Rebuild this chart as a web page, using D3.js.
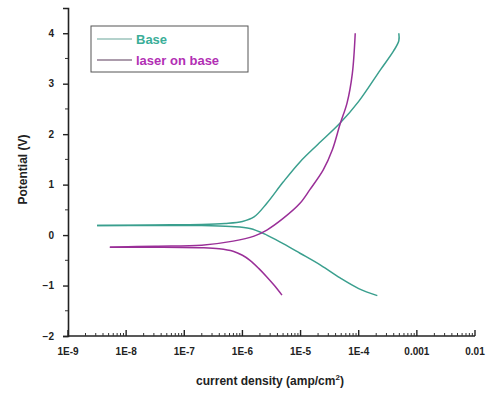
<!DOCTYPE html>
<html>
<head>
<meta charset="utf-8">
<script src="https://cdn.jsdelivr.net/npm/d3@7"></script>
<style>
  body { margin: 0; background: #fff; }
  text { font-family: "Liberation Sans", Arial, sans-serif; font-weight: bold; }
</style>
</head>
<body>
<div id="chart"></div>
<script>
// current density is stored as log10(amp/cm2), potential in V
const seriesNames = ["Base", "laser on base"];
const seriesColors = ["#3a9f8e", "#9a2f98"];

// Base: cathodic branch (from low-current tip outwards)
const baseCathLog = [-8.5, -7.5, -6.7, -6.2, -5.87, -5.58, -5.3, -5.01, -4.65, -4.32, -4.0, -3.68];
const baseCathV   = [0.19, 0.19, 0.19, 0.17, 0.13, 0.0, -0.17, -0.36, -0.6, -0.85, -1.06, -1.2];
// Base: anodic branch
const baseAnodLog = [-8.5, -7.5, -6.7, -6.3, -6.0, -5.8, -5.58, -5.3, -5.01, -4.7, -4.32, -4.0, -3.63, -3.4, -3.31, -3.31];
const baseAnodV   = [0.19, 0.2, 0.21, 0.23, 0.27, 0.36, 0.63, 1.05, 1.45, 1.8, 2.22, 2.65, 3.27, 3.65, 3.85, 4.0];

// laser on base: cathodic branch
const laserCathLog = [-8.28, -7.5, -6.7, -6.4, -6.16, -6.0, -5.87, -5.72, -5.58, -5.45, -5.32];
const laserCathV   = [-0.24, -0.24, -0.25, -0.27, -0.32, -0.4, -0.5, -0.66, -0.83, -1.0, -1.19];
// laser on base: anodic branch
const laserAnodLog = [-8.28, -7.5, -6.7, -6.16, -5.8, -5.58, -5.3, -5.01, -4.84, -4.61, -4.45, -4.32, -4.2, -4.11, -4.06];
const laserAnodV   = [-0.24, -0.22, -0.2, -0.12, -0.02, 0.1, 0.33, 0.63, 0.9, 1.29, 1.7, 2.2, 2.62, 3.2, 4.0];

const xTickLabels = ["1E-9", "1E-8", "1E-7", "1E-6", "1E-5", "1E-4", "0.001", "0.01"];
const yTicks = [-2, -1, 0, 1, 2, 3, 4];

const width = 489, height = 396;
const margin = {top: 8, right: 14, bottom: 60, left: 68};

const svg = d3.select("#chart").append("svg")
    .attr("width", width)
    .attr("height", height);

const x = d3.scaleLog()
    .domain([1e-9, 1e-2])
    .range([margin.left, width - margin.right]);

const y = d3.scaleLinear()
    .domain([-2, 4.5])
    .range([height - margin.bottom, margin.top]);

// minor x ticks (inside, pointing up)
let minorX = [];
for (let e = -9; e < -2; e++) {
    for (let m = 2; m <= 9; m++) minorX.push(m * Math.pow(10, e));
}
const majorX = xTickLabels.map((d, i) => Math.pow(10, -9 + i));

const xAxis = svg.append("g")
    .attr("transform", "translate(0," + y(-2) + ")");
xAxis.append("line")
    .attr("x1", x.range()[0]).attr("x2", x.range()[1])
    .attr("stroke", "#222").attr("stroke-width", 1.6);
xAxis.selectAll(".minor").data(minorX).enter().append("line")
    .attr("x1", d => x(d)).attr("x2", d => x(d))
    .attr("y1", 0).attr("y2", -3)
    .attr("stroke", "#333").attr("stroke-width", 1);
xAxis.selectAll(".major").data(majorX).enter().append("line")
    .attr("x1", d => x(d)).attr("x2", d => x(d))
    .attr("y1", 0).attr("y2", -6)
    .attr("stroke", "#222").attr("stroke-width", 1.4);
xAxis.selectAll(".lab").data(majorX).enter().append("text")
    .attr("x", d => x(d))
    .attr("y", 19)
    .attr("text-anchor", "middle")
    .attr("font-size", 10)
    .attr("fill", "#222")
    .text((d, i) => xTickLabels[i]);

// y axis
const yAxis = d3.axisLeft(y)
    .tickValues(yTicks)
    .tickSize(5)
    .tickPadding(9)
    .tickFormat(d3.format("d"));
const gy = svg.append("g")
    .attr("transform", "translate(" + margin.left + ",0)")
    .call(yAxis);
gy.select(".domain").attr("stroke", "#222").attr("stroke-width", 1.6);
gy.selectAll(".tick line").attr("stroke", "#222").attr("stroke-width", 1.4);
gy.selectAll(".tick text")
    .attr("font-size", 10)
    .attr("font-weight", "bold")
    .attr("font-family", "Liberation Sans, Arial, sans-serif")
    .attr("fill", "#222");
gy.selectAll(".minor").data(d3.range(-1.5, 4.5, 1)).enter().append("line")
    .attr("x1", 0).attr("x2", -3)
    .attr("y1", d => y(d)).attr("y2", d => y(d))
    .attr("stroke", "#333").attr("stroke-width", 1);

// curves
const line = d3.line()
    .x(d => x(Math.pow(10, d[0])))
    .y(d => y(d[1]))
    .curve(d3.curveCatmullRom.alpha(0.5));

function branch(logs, vs) {
    return logs.map((d, i) => [d, vs[i]]);
}

const curves = [
    {c: 0, pts: branch(baseCathLog, baseCathV)},
    {c: 0, pts: branch(baseAnodLog, baseAnodV)},
    {c: 1, pts: branch(laserCathLog, laserCathV)},
    {c: 1, pts: branch(laserAnodLog, laserAnodV)}
];

svg.selectAll(".curve").data(curves).enter().append("path")
    .attr("class", "curve")
    .attr("d", d => line(d.pts))
    .attr("fill", "none")
    .attr("stroke", d => seriesColors[d.c])
    .attr("stroke-width", 1.5);

// legend
const legend = svg.append("g").attr("transform", "translate(91,26)");
legend.append("rect")
    .attr("width", 157).attr("height", 46)
    .attr("fill", "#fff")
    .attr("stroke", "#555").attr("stroke-width", 1);
seriesNames.forEach((name, i) => {
    const ly = 13 + i * 21;
    legend.append("line")
        .attr("x1", 6).attr("x2", 41)
        .attr("y1", ly).attr("y2", ly)
        .attr("stroke", i === 0 ? "#6aa59a" : "#5a3a5a")
        .attr("stroke-width", 1.2);
    legend.append("text")
        .attr("x", 45).attr("y", ly + 5)
        .attr("font-size", 13)
        .attr("fill", i === 0 ? "#3aae98" : "#b22fb4")
        .text(name);
});

// axis titles
svg.append("text")
    .attr("transform", "translate(27," + y(1.3) + ") rotate(-90)")
    .attr("text-anchor", "middle")
    .attr("font-size", 12)
    .attr("fill", "#222")
    .text("Potential (V)");

const xt = svg.append("text")
    .attr("x", 270).attr("y", 385)
    .attr("text-anchor", "middle")
    .attr("font-size", 12)
    .attr("fill", "#222");
xt.append("tspan").text("current density (amp/cm");
xt.append("tspan").attr("dy", -5).attr("font-size", 8).text("2");
xt.append("tspan").attr("dy", 5).text(")");
</script>
</body>
</html>
